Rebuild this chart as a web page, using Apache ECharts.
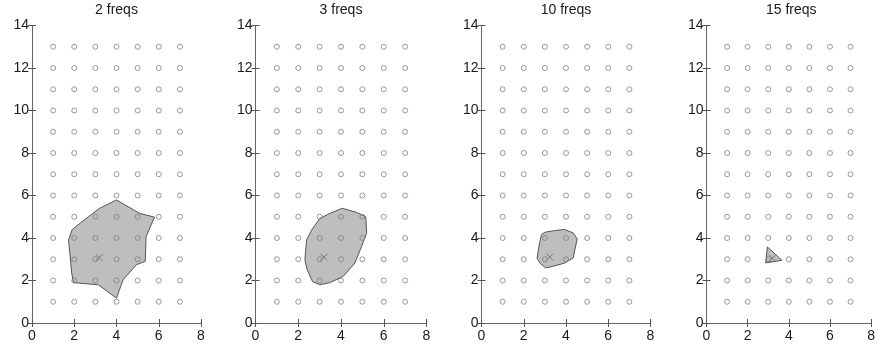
<!DOCTYPE html>
<html>
<head>
<meta charset="utf-8">
<script src="https://cdn.jsdelivr.net/npm/echarts@6/dist/echarts.min.js"></script>
<style>
  html, body { margin: 0; padding: 0; background: #fff; }
  #chart { width: 878px; height: 349px; }
</style>
</head>
<body>
<div id="chart"></div>
<script>
// panel titles
const titles = ['2 freqs', '3 freqs', '10 freqs', '15 freqs'];

// lattice of candidate points
const gridX = [1, 2, 3, 4, 5, 6, 7];
const gridY = [1, 2, 3, 4, 5, 6, 7, 8, 9, 10, 11, 12, 13];

// estimated source position (x marker)
const markers = [[3.18, 3.08], [3.2, 3.1], [3.23, 3.1], [3.2, 3.05]];

// confidence region outlines
const poly2 = [[4.0, 5.79], [5.1, 5.16], [5.8, 4.98], [5.4, 4.07], [5.36, 2.9], [4.94, 2.74],
    [4.31, 2.03], [4.0, 1.17], [3.14, 1.8], [1.96, 1.9], [1.88, 2.35], [1.73, 3.9],
    [1.9, 4.4], [2.67, 5.0], [3.2, 5.4]];
const poly3 = [[4.06, 5.4], [4.72, 5.21], [5.16, 5.0], [5.2, 4.22], [4.96, 3.6], [4.65, 2.82],
    [4.1, 2.19], [3.48, 1.9], [3.01, 1.8], [2.67, 1.95], [2.42, 2.5], [2.31, 2.97],
    [2.39, 3.9], [2.62, 4.37], [3.01, 4.92], [3.48, 5.16]];
const poly10 = [[3.0, 4.27], [3.47, 4.35], [3.94, 4.4], [4.34, 4.24], [4.53, 3.96], [4.42, 3.45],
    [4.34, 3.06], [3.94, 2.82], [3.39, 2.67], [3.04, 2.59], [2.76, 2.82], [2.63, 3.06],
    [2.73, 3.67], [2.84, 4.16]];
const poly15 = [[2.96, 3.58], [3.67, 2.95], [2.88, 2.83]];
const polys = [poly2, poly3, poly10, poly15];

// axis ticks
const xTicks = [0, 2, 4, 6, 8];
const yTicks = [0, 2, 4, 6, 8, 10, 12, 14];

const lattice = [];
gridY.forEach(y => gridX.forEach(x => lattice.push([x, y])));

const font = 'Liberation Sans, Arial, sans-serif';
const boxes = [
    { left: 32, width: 169 },
    { left: 255.5, width: 171 },
    { left: 481.5, width: 169 },
    { left: 706.5, width: 169.5 }
];
const plotTop = 25.5, plotHeight = 297.5;

const grid = [], xAxis = [], yAxis = [], series = [], title = [];

boxes.forEach((b, i) => {
    grid.push({ left: b.left, top: plotTop, width: b.width, height: plotHeight, containLabel: false });
    title.push({
        text: titles[i],
        left: b.left + b.width / 2,
        top: 3,
        padding: 0,
        textAlign: 'center',
        textStyle: { fontFamily: font, fontSize: 14, fontWeight: 'normal', color: '#1a1a1a' }
    });
    const axLine = { show: true, lineStyle: { color: '#666', width: 1 } };
    const tick = { show: true, inside: true, length: 4, lineStyle: { color: '#555' } };
    ['bottom', 'top'].forEach(pos => {
        xAxis.push({
            gridIndex: i, type: 'value', position: pos,
            min: xTicks[0], max: xTicks[xTicks.length - 1], interval: xTicks[1] - xTicks[0],
            axisLine: axLine, axisTick: tick, splitLine: { show: false },
            axisLabel: {
                show: pos === 'bottom', color: '#1a1a1a', fontFamily: font, fontSize: 14, margin: 6
            }
        });
    });
    ['left', 'right'].forEach(pos => {
        yAxis.push({
            gridIndex: i, type: 'value', position: pos,
            min: yTicks[0], max: yTicks[yTicks.length - 1], interval: yTicks[1] - yTicks[0],
            axisLine: axLine, axisTick: tick, splitLine: { show: false },
            axisLabel: {
                show: pos === 'left', color: '#1a1a1a', fontFamily: font, fontSize: 14, margin: 3
            }
        });
    });

    const verts = polys[i];
    series.push({
        type: 'custom',
        xAxisIndex: i * 2, yAxisIndex: i * 2,
        data: verts,
        silent: true,
        z: 1,
        renderItem: (params, api) => {
            if (params.dataIndex !== 0) return;
            return {
                type: 'polygon',
                shape: { points: verts.map(p => api.coord(p)) },
                style: { fill: '#bebebe', stroke: '#555', lineWidth: 1 }
            };
        }
    });
    series.push({
        type: 'scatter',
        xAxisIndex: i * 2, yAxisIndex: i * 2,
        data: lattice,
        symbol: 'circle',
        symbolSize: 5,
        silent: true,
        z: 2,
        itemStyle: { color: 'none', borderColor: '#808080', borderWidth: 1 }
    });
    series.push({
        type: 'scatter',
        xAxisIndex: i * 2, yAxisIndex: i * 2,
        data: [markers[i]],
        symbol: 'path://M0,0L10,10M10,0L0,10',
        symbolSize: 7,
        silent: true,
        z: 3,
        itemStyle: { color: 'none', borderColor: '#666', borderWidth: 1 }
    });
});

const chart = echarts.init(document.getElementById('chart'));
chart.setOption({
    animation: false,
    backgroundColor: '#fff',
    title: title,
    grid: grid,
    xAxis: xAxis,
    yAxis: yAxis,
    series: series
});
</script>
</body>
</html>
